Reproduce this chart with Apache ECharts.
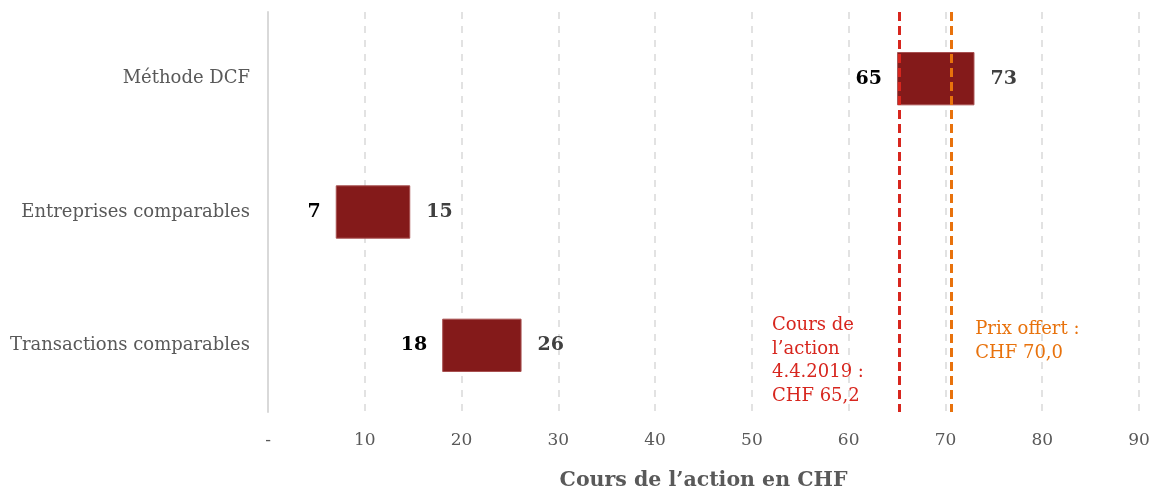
<!DOCTYPE html>
<html>
<head>
<meta charset="utf-8">
<script src="https://cdn.jsdelivr.net/npm/echarts@6/dist/echarts.min.js"></script>
<style>
  html, body { margin: 0; padding: 0; background: #fff; }
  #chart { width: 1162px; height: 491px; }
</style>
</head>
<body>
<div id="chart"></div>
<script>
// valeurs
var categories = ['Méthode DCF', 'Entreprises comparables', 'Transactions comparables'];
var lows = [65, 7, 18];
var highs = [73, 14.7, 26.2];
var xTicks = [0, 10, 20, 30, 40, 50, 60, 70, 80, 90];
var coursAction = 65.2;
var prixOffert = 70.6;
var coursText = ['Cours de', 'l\u2019action', '4.4.2019 :', 'CHF 65,2'];
var prixText = ['Prix offert :', 'CHF 70,0'];

var serif = 'DejaVu Serif';
var grey = '#595959';

var chart = echarts.init(document.getElementById('chart'));

var option = {
  animation: false,
  grid: { left: 268, right: 23, top: 12, bottom: 79, outerBoundsMode: 'none' },
  xAxis: {
    type: 'value',
    min: xTicks[0],
    max: xTicks[xTicks.length - 1],
    interval: 10,
    name: 'Cours de l\u2019action en CHF',
    nameLocation: 'middle',
    nameGap: 58,
    nameTextStyle: { fontFamily: serif, fontWeight: 'bold', fontSize: 20.5, color: grey },
    axisLine: { show: false },
    axisTick: { show: false },
    axisLabel: {
      fontFamily: serif, fontSize: 17, color: grey, margin: 20,
      formatter: function (v) { return v === 0 ? '-' : v; }
    },
    splitLine: { lineStyle: { color: '#d9d9d9', type: [7, 7], width: 1.5 } }
  },
  yAxis: {
    type: 'category',
    data: categories,
    inverse: true,
    axisLine: { lineStyle: { color: '#d9d9d9', width: 2 } },
    axisTick: { show: false },
    axisLabel: { fontFamily: serif, fontSize: 18, color: grey, margin: 18 }
  },
  series: [
    {
      type: 'bar',
      stack: 'range',
      barWidth: '40%',
      data: lows,
      itemStyle: { color: 'transparent' },
      label: {
        show: true,
        position: 'insideRight',
        distance: 15,
        fontFamily: serif, fontWeight: 'bold', fontSize: 19, color: '#000',
        formatter: function (p) { return Math.round(p.value); }
      },
      markLine: {
        symbol: 'none',
        silent: true,
        label: { show: false },
        data: [
          { xAxis: coursAction, lineStyle: { color: '#d7261e', type: [9, 5], width: 3 } },
          { xAxis: prixOffert, lineStyle: { color: '#e8720c', type: [9, 5], width: 3 } }
        ]
      }
    },
    {
      type: 'bar',
      stack: 'range',
      barWidth: '40%',
      data: highs.map(function (h, i) { return +(h - lows[i]).toFixed(2); }),
      itemStyle: { color: '#841a1a', borderColor: '#a85050', borderWidth: 1 },
      label: {
        show: true,
        position: 'right',
        distance: 16,
        fontFamily: serif, fontWeight: 'bold', fontSize: 19, color: '#404040',
        formatter: function (p) { return Math.round(highs[p.dataIndex]); }
      }
    }
  ]
};
chart.setOption(option);

// annotations placées à côté des lignes
var xCours = chart.convertToPixel({ xAxisIndex: 0 }, coursAction);
var xPrix = chart.convertToPixel({ xAxisIndex: 0 }, prixOffert);
chart.setOption({
  graphic: [
    {
      type: 'text', left: xCours - 127, top: 314,
      style: { text: coursText.join('\n'), fill: '#d7261e', font: '18px "DejaVu Serif"', lineHeight: 23.5 }
    },
    {
      type: 'text', left: xPrix + 24, top: 317,
      style: { text: prixText.join('\n'), fill: '#e8720c', font: '18px "DejaVu Serif"', lineHeight: 24 }
    }
  ]
});
</script>
</body>
</html>
